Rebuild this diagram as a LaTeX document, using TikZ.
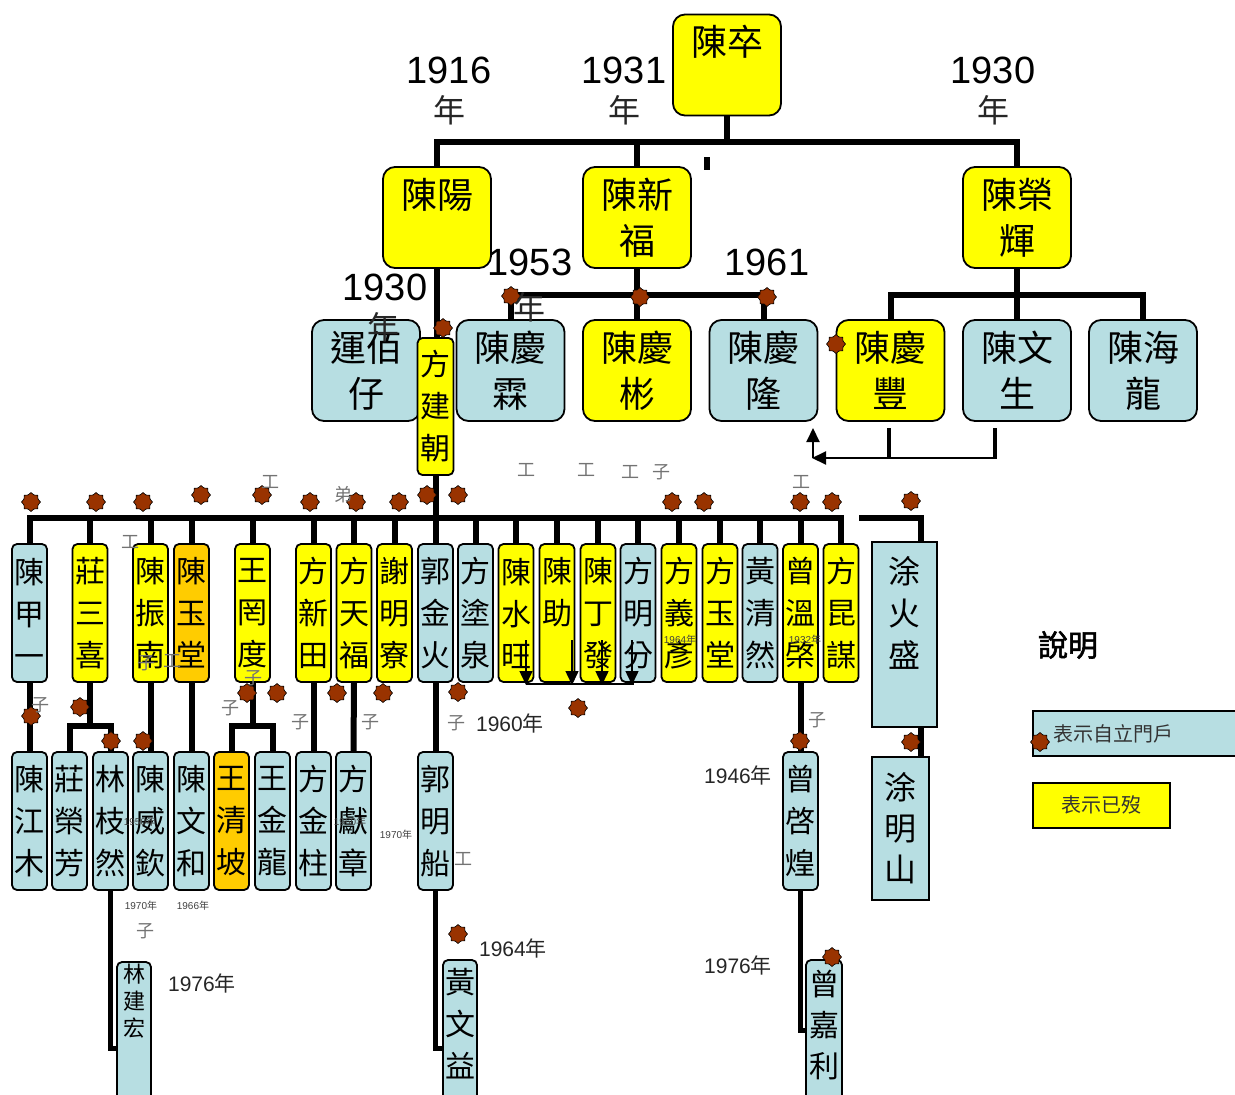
\documentclass[tikz,border=0pt]{standalone}
\usepackage{fontspec}
\setmainfont{Liberation Sans}
\newfontfamily\cjk{Noto Sans CJK TC}
\newfontfamily\cjkb{Noto Sans CJK TC}[FakeBold=2]
\usetikzlibrary{shapes.geometric,arrows.meta,calc}
\pgfdeclarelayer{bg}
\pgfsetlayers{bg,main}
\definecolor{yel}{HTML}{FFFF00}
\definecolor{lb}{HTML}{B7DEE2}
\definecolor{org}{HTML}{FFCC00}
\definecolor{sealc}{HTML}{993300}
\newcommand{\nian}{{\cjk 年}}
\tikzset{
 big/.style={draw, line width=1.8pt, rounded corners=12pt, minimum width=108pt, minimum height=101pt, inner sep=0pt, align=center, font=\cjk\fontsize{36}{46}\selectfont},
 slim/.style={draw, line width=1.8pt, rounded corners=5pt, minimum width=35pt, minimum height=138pt, inner sep=0pt, align=center, font=\cjk\fontsize{30}{42}\selectfont},
 conn/.style={line width=6pt},
 sealdot/.style={star, star points=8, star point ratio=1.25, minimum size=19pt, inner sep=0pt, fill=sealc, draw=black, line width=0.6pt},
 gl/.style={font=\cjk\fontsize{18}{18}\selectfont, text=black!55, inner sep=0pt},
 yr/.style={font=\fontsize{38}{38}\selectfont, inner sep=0pt},
 yrn/.style={font=\cjk\fontsize{32}{32}\selectfont, inner sep=0pt, text=black!85},
 mdt/.style={font=\fontsize{21}{21}\selectfont, inner sep=0pt, text=black!85},
 tinyt/.style={font=\fontsize{10}{10}\selectfont, inner sep=0pt, text=black!75},
}
\begin{document}
\begin{tikzpicture}[x=1pt,y=-1pt]
\useasboundingbox (0,0) rectangle (1235,1095);
% level 1-2
\node[big,fill=yel] (zu) at (727,65) {陳卒\\\phantom{陳}};
\node[big,fill=yel] (yang) at (437,217.5) {陳陽\\\phantom{陳}};
\node[big,fill=yel] (xinfu) at (637,217.5) {陳新\\福};
\node[big,fill=yel] (rong) at (1017,217.5) {陳榮\\輝};
% level 3
\node[big,fill=lb] (yun) at (366,370.5) {運佰\\仔};
\node[big,fill=lb] (lin) at (510.5,370.5) {陳慶\\霖};
\node[big,fill=yel] (bin) at (637,370.5) {陳慶\\彬};
\node[big,fill=lb] (long) at (763.5,370.5) {陳慶\\隆};
\node[big,fill=yel] (feng) at (890.5,370.5) {陳慶\\豐};
\node[big,fill=lb] (wsheng) at (1017,370.5) {陳文\\生};
\node[big,fill=lb] (hlong) at (1143,370.5) {陳海\\龍};
\node[slim,fill=yel,minimum width=36pt,minimum height=137pt] (fjc) at (435.5,406.5) {方\\建\\朝};
% level 4
\node[slim,fill=lb] (jiayi) at (29.5,613) {陳\\甲\\一};
\node[slim,fill=yel] (sanxi) at (90,613) {莊\\三\\喜};
\node[slim,fill=yel] (zhennan) at (150.5,613) {陳\\振\\南};
\node[slim,fill=org] (yutang) at (191.5,613) {陳\\玉\\堂};
\node[slim,fill=yel] (wanggd) at (252.5,613) {王\\罔\\度};
\node[slim,fill=yel] (xintian) at (313.5,613) {方\\新\\田};
\node[slim,fill=yel] (tianfu) at (354,613) {方\\天\\福};
\node[slim,fill=yel] (mliao) at (394.5,613) {謝\\明\\寮};
\node[slim,fill=lb] (jinhuo) at (435.5,613) {郭\\金\\火};
\node[slim,fill=lb] (tuquan) at (475.5,613) {方\\塗\\泉};
\node[slim,fill=yel] (shuiw) at (516,613) {陳\\水\\旺};
\node[slim,fill=yel] (zhu) at (557,613) {陳\\助\\\phantom{陳}};
\node[slim,fill=yel] (dingfa) at (598,613) {陳\\丁\\發};
\node[slim,fill=lb] (mfen) at (638,613) {方\\明\\分};
\node[slim,fill=yel] (yiyan) at (679,613) {方\\義\\彥};
\node[slim,fill=yel] (yutang2) at (720,613) {方\\玉\\堂};
\node[slim,fill=lb] (qran) at (760,613) {黃\\清\\然};
\node[slim,fill=yel] (wenqi) at (800.5,613) {曾\\溫\\棨};
\node[slim,fill=yel] (kunmou) at (841,613) {方\\昆\\謀};
\node[draw,line width=1.8pt,fill=lb,minimum width=65pt,minimum height=185pt,inner sep=0pt,align=center,font=\cjk\fontsize{32}{42}\selectfont] (tuhuo) at (904.5,634.5) {涂\\火\\盛\\\phantom{涂}};
% level 5
\node[slim,fill=lb] (jiangmu) at (29.5,821) {陳\\江\\木};
\node[slim,fill=lb] (rfang) at (69.5,821) {莊\\榮\\芳};
\node[slim,fill=lb] (zhiran) at (110.5,821) {林\\枝\\然};
\node[slim,fill=lb] (weiqin) at (150.5,821) {陳\\威\\欽};
\node[slim,fill=lb] (wenhe) at (191.5,821) {陳\\文\\和};
\node[slim,fill=org] (qingpo) at (231.5,821) {王\\清\\坡};
\node[slim,fill=lb] (jinlong) at (272.5,821) {王\\金\\龍};
\node[slim,fill=lb] (jinzhu) at (313.5,821) {方\\金\\柱};
\node[slim,fill=lb] (xzhang) at (353.5,821) {方\\獻\\章};
\node[slim,fill=lb] (mchuan) at (435.5,821) {郭\\明\\船};
\node[slim,fill=lb] (qihuang) at (800.5,821) {曾\\啓\\煌};
\node[draw,line width=1.8pt,fill=lb,minimum width=57pt,minimum height=143pt,inner sep=0pt,align=center,font=\cjk\fontsize{32}{41}\selectfont] (tuming) at (900.5,828.5) {涂\\明\\山};
% level 6
\node[draw,line width=1.8pt,rounded corners=5pt,fill=lb,inner sep=0pt,font=\cjk\fontsize{22}{27}\selectfont] (jhong) at (134,1048) {\parbox[c][172pt][t]{34pt}{\centering\vspace*{2pt}林\\建\\宏}};
\node[draw,line width=1.8pt,rounded corners=5pt,fill=lb,inner sep=0pt,font=\cjk\fontsize{30}{42}\selectfont] (hwenyi) at (460,1048) {\parbox[c][176pt][t]{34pt}{\centering\vspace*{8pt}黃\\文\\益}};
\node[draw,line width=1.8pt,rounded corners=5pt,fill=lb,inner sep=0pt,font=\cjk\fontsize{30}{41}\selectfont] (jiali) at (824,1030) {\parbox[c][140pt][t]{36pt}{\centering\vspace*{10pt}曾\\嘉\\利}};
% connectors
\begin{pgfonlayer}{bg}
\draw[conn] (zu.south) -- ++(0,27);
\draw[conn] (yang.north) -- ++(0,-24) -| (rong.north);
\draw[conn] (xinfu.north) -- ++(0,-24);
\draw[conn] (yang.south) -- (yang.south |- fjc.north);
\draw[conn] (fjc.south) -- (fjc.south |- jinhuo.north);
\draw[conn] (xinfu.south) -- (bin.north);
\draw[conn] (lin.north) -- ++(0,-24) -| (long.north);
\draw[conn] (rong.south) -- (wsheng.north);
\draw[conn] (feng.north) -- ++(0,-24) -| (hlong.north);
\draw[conn] (jiayi.north) -- ++(0,-25) -| (kunmou.north);
\foreach \n in {sanxi,zhennan,yutang,wanggd,xintian,tianfu,mliao,tuquan,shuiw,zhu,dingfa,mfen,yiyan,yutang2,qran,wenqi}
  \draw[conn] (\n.north) -- ++(0,-25);
\coordinate (tustart) at (859,518);
\draw[conn] (tustart) -| ([xshift=-17pt]tuhuo.north east);
\draw[conn] ([xshift=-17pt]tuhuo.south east) -- ([xshift=-9pt]tuming.north east);
\draw[conn] (jiayi.south) -- (jiangmu.north);
\draw[conn] (sanxi.south) -- ++(0,45);
\draw[conn] (rfang.north) -- ++(0,-25) -| (zhiran.north);
\draw[conn] (zhennan.south) -- (weiqin.north);
\draw[conn] (yutang.south) -- (wenhe.north);
\draw[conn] (wanggd.south) -- ++(0,45);
\draw[conn] (qingpo.north) -- ++(0,-25) -| (jinlong.north);
\draw[conn] (xintian.south) -- (jinzhu.north);
\draw[conn] (tianfu.south) -- (xzhang.north);
\draw[conn] (jinhuo.south) -- (mchuan.north);
\draw[conn] (wenqi.south) -- (qihuang.north);
\draw[line width=5pt] (zhiran.south) |- (jhong.west);
\draw[line width=5pt] (mchuan.south) |- (hwenyi.west);
\draw[line width=5pt] (qihuang.south) |- (jiali.west);
\end{pgfonlayer}
% arrows between level 3
\coordinate (fa) at (889,428);
\coordinate (wa) at (995,428);
\coordinate (ah) at (813,458);
\coordinate (at) at (813,428);
\draw[line width=4pt] (fa) -- ++(0,31);
\draw[line width=4pt] (wa) -- ++(0,31);
\draw[line width=2pt,-{Triangle[length=14pt,width=13pt]}] (995,458) -- (812,458);
\draw[line width=2pt,-{Triangle[length=14pt,width=13pt]}] (ah) -- (at);
% arrows level 4
\draw[line width=1.2pt] (526,684) -- (634,684);
\foreach \xx in {526,572,602,632}
  \draw[line width=1.5pt,-{Triangle[length=14pt,width=13pt]}] (\xx,640) -- (\xx,685);
% stray mark
\fill (704,157) rectangle (710,170);
% stars
\foreach \sx/\sy [count=\i] in {511/296,640/297,767/297,443/328,836/344,
 31/502,96/502,143/502,201/495,262/495,310/502,356/502,399/502,427/495,458/495,672/502,704/502,800/502,832/502,911/501,
 31/716,80/707,111/741,143/741,247/693,277/693,337/693,383/693,458/692,578/708,800/741,911/742,
 458/934,832/957}
  \node[sealdot] (s\i) at (\sx,\sy) {};
% year labels
\node[yr] (y1) at (449,70) {1916};
\node[yrn] (y1n) at (449,110) {年};
\node[yr] (y2) at (624,70) {1931};
\node[yrn] (y2n) at (624,110) {年};
\node[yr] (y3) at (993,70) {1930};
\node[yrn] (y3n) at (993,110) {年};
\node[yr] (y4) at (385,287) {1930};
\node[yrn] (y4n) at (383,327) {年};
\node[yr] (y5) at (530,262) {1953};
\node[yrn] (y5n) at (529,307) {年};
\node[yr] (y6) at (767,262) {1961};
% gray small labels
\node[gl] (g1) at (526,470) {工};
\node[gl] (g2) at (586,470) {工};
\node[gl] (g3) at (630,472) {工};
\node[gl] (g4) at (661,472) {子};
\node[gl] (g5) at (801,482) {工};
\node[gl] (g6) at (270,482) {工};
\node[gl] (g7) at (343,495) {弟};
\node[gl] (g8) at (130,542) {工};
\node[gl] (g9) at (40,705) {子};
\node[gl] (g10) at (230,708) {子};
\node[gl] (g11) at (300,722) {子};
\node[gl] (g12) at (370,722) {子};
\node[gl] (g13) at (456,723) {子};
\node[gl] (g14) at (817,720) {子};
\node[gl] (g15) at (253,678) {子};
\node[gl] (g16) at (146,663) {子};
\node[gl] (g17) at (172,661) {工};
\node[gl] (g18) at (463,859) {工};
\node[gl] (g19) at (145,931) {子};
% medium labels
\node[mdt] (m1) at (510,723) {1960\nian};
\node[mdt] (m2) at (738,775) {1946\nian};
\node[mdt] (m3) at (513,948) {1964\nian};
\node[mdt] (m4) at (202,983) {1976\nian};
\node[mdt] (m5) at (738,965) {1976\nian};
% tiny labels
\node[tinyt] (t1) at (680,640) {1964\nian};
\node[tinyt] (t2) at (805,640) {1932\nian};
\node[tinyt] (t3) at (140,822) {1950\nian};
\node[tinyt] (t4) at (350,822) {1960\nian};
\node[tinyt] (t5) at (396,835) {1970\nian};
\node[tinyt] (t6) at (141,906) {1970\nian};
\node[tinyt] (t7) at (193,906) {1966\nian};
% legend
\node[font=\cjkb\fontsize{30}{30}\selectfont,inner sep=0pt] (shuoming) at (1068,645) {說明};
\node[draw,line width=1.8pt,fill=lb,anchor=north west,minimum height=45pt,text width=166pt,inner xsep=21pt,align=left,font=\cjk\fontsize{20}{20}\selectfont,text=black!80] (leg1) at (1032,710) {表示自立門戶};
\node[sealdot] (legstar) at (1040,742) {};
\node[draw,line width=1.8pt,fill=yel,anchor=north west,minimum height=45pt,minimum width=137pt,inner sep=0pt,font=\cjk\fontsize{20}{20}\selectfont,text=black!80] (leg2) at (1032,782) {表示已歿};
\end{tikzpicture}
\end{document}
